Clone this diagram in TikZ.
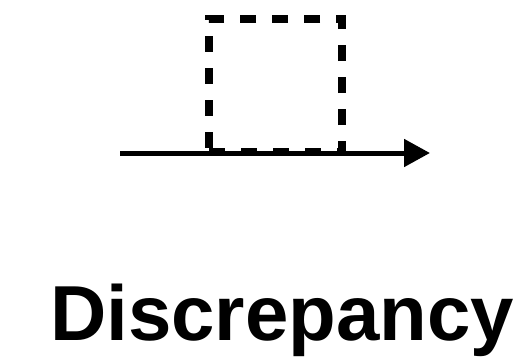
\documentclass[tikz,border=0pt]{standalone}
\usepackage{fontspec}
\setmainfont{Liberation Sans}
\usetikzlibrary{arrows.meta}
\begin{document}
\begin{tikzpicture}[x=1pt,y=1pt,
  dashbox/.style={draw=black, line width=7.5pt, dash pattern=on 16pt off 16pt, minimum width=133pt, minimum height=133pt, inner sep=0pt, outer sep=0pt},
  axisarrow/.style={line width=5pt, -{Triangle[length=26pt,width=27pt]}},
  label/.style={font=\fontsize{78}{88}\selectfont\bfseries, inner sep=0pt, anchor=base}]
\useasboundingbox (0,0) rectangle (528,360);
\node[dashbox] (box) at (275.5,274.5) {};
\coordinate (start) at (120,207);
\coordinate (end) at (430,207);
\draw[axisarrow] (start) -- (end);
\node[label] (title) at (282,20) {Discrepancy};
\end{tikzpicture}
\end{document}
